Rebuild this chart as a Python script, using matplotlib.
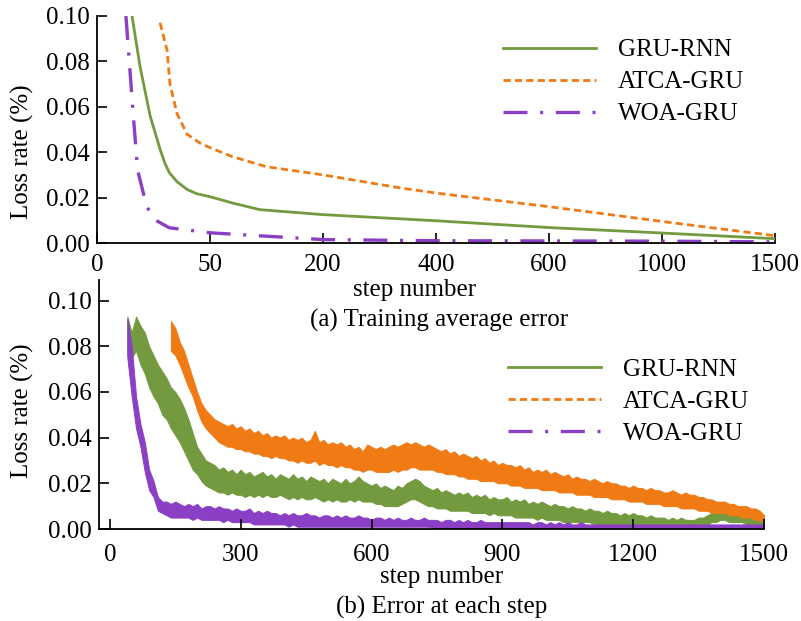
import numpy as np
import matplotlib.pyplot as plt
from matplotlib.lines import Line2D

plt.rcParams['font.family'] = ['Liberation Serif', 'DejaVu Serif']

labels = ['GRU-RNN', 'ATCA-GRU', 'WOA-GRU']
colors = ['#739a3f', '#f07a14', '#8a3fc4']

# (a) training average error, read at step numbers
top_ticks = [0, 50, 200, 400, 600, 1000, 1500]
gru_x = [15.5, 19, 23.5, 28, 30.1, 32, 35.4, 40, 44.2, 50, 80, 116, 200, 400, 600, 1000, 1500]
gru_y = [0.100, 0.078, 0.056, 0.041, 0.035, 0.031, 0.027, 0.0235, 0.0217, 0.0204, 0.0176, 0.0147,
         0.0125, 0.0098, 0.0068, 0.0044, 0.0019]
atca_x = [27.9, 31, 32.3, 35.4, 39.8, 45.6, 50, 80, 125, 200, 336, 400, 600, 1000, 1500]
atca_y = [0.097, 0.085, 0.070, 0.057, 0.048, 0.044, 0.042, 0.038, 0.0336, 0.030, 0.0243, 0.022,
          0.016, 0.0095, 0.0032]
woa_x = [12.8, 16, 18, 22, 26, 32, 50, 200, 400, 600, 1000, 1500]
woa_y = [0.100, 0.057, 0.032, 0.016, 0.010, 0.0067, 0.0045, 0.0015, 0.0010, 0.0009, 0.0008, 0.0005]

# (b) error at each step: upper / lower edge of the noisy trace every 10 steps (1e-3)
step_gap = 10
gru_start = 40
gru_hi = [93, 86, 93, 89, 86, 80, 76, 72, 69, 66,
          62, 60, 57, 53, 48, 42, 36, 33, 30, 29,
          28, 26, 27, 25, 26, 24, 26, 24, 25, 23,
          24, 25, 23, 24, 22, 24, 23, 22, 24, 22,
          23, 21, 23, 22, 21, 22, 20, 22, 21, 20,
          22, 20, 21, 23, 21, 20, 19, 20, 18, 19,
          18, 17, 19, 18, 20, 21, 22, 21, 19, 18,
          17, 18, 16, 17, 16, 15, 16, 15, 16, 14,
          15, 14, 15, 13, 14, 13, 13, 14, 12, 13,
          12, 13, 11, 12, 11, 12, 11, 10, 11, 10,
          10, 9, 10, 9, 9, 8, 9, 8, 8, 7,
          8, 7, 7, 6, 7, 6, 7, 6, 6, 5,
          6, 5, 5, 5, 4, 5, 4, 5, 4, 4,
          4, 5, 5, 6, 7, 8, 8, 9, 8, 8,
          7, 7, 6, 6, 6, 5, 5]
gru_lo = [76, 75, 78, 72, 68, 62, 58, 55, 50, 48,
          44, 41, 38, 34, 30, 26, 24, 21, 19, 18,
          17, 16, 16, 15, 16, 15, 15, 14, 15, 14,
          15, 14, 15, 14, 14, 15, 14, 13, 14, 13,
          14, 13, 13, 14, 13, 12, 13, 12, 13, 12,
          12, 13, 12, 13, 12, 12, 12, 11, 11, 10,
          10, 10, 10, 11, 12, 13, 13, 12, 11, 10,
          10, 9, 9, 9, 8, 8, 8, 8, 8, 7,
          7, 7, 7, 6, 7, 6, 6, 6, 6, 5,
          5, 5, 5, 5, 4, 5, 4, 4, 4, 4,
          3, 3, 3, 3, 3, 3, 3, 2, 2, 2,
          2, 2, 2, 2, 2, 2, 2, 2, 1, 1,
          1, 1, 1, 1, 1, 1, 1, 1, 1, 1,
          1, 1, 2, 2, 3, 3, 4, 4, 3, 3,
          3, 3, 2, 2, 2, 2, 2]
atca_start = 140
atca_hi = [91, 88, 82, 78, 72, 66, 60, 55, 52, 50,
           48, 47, 46, 45, 46, 44, 45, 43, 44, 42,
           43, 41, 42, 40, 41, 40, 41, 39, 40, 39,
           40, 38, 39, 43, 38, 39, 37, 38, 37, 38,
           36, 37, 35, 36, 34, 37, 36, 35, 36, 35,
           36, 37, 36, 37, 38, 37, 38, 37, 36, 37,
           36, 35, 34, 35, 33, 34, 32, 33, 32, 31,
           32, 30, 31, 29, 30, 28, 29, 28, 28, 27,
           28, 26, 27, 25, 26, 25, 26, 24, 25, 24,
           23, 24, 22, 23, 22, 22, 21, 22, 21, 20,
           21, 20, 20, 19, 19, 18, 19, 18, 18, 17,
           18, 17, 17, 16, 16, 17, 16, 15, 16, 15,
           15, 14, 14, 13, 13, 12, 12, 12, 11, 11,
           10, 10, 10, 9, 9, 8, 6]
atca_lo = [78, 76, 72, 67, 62, 58, 52, 47, 44, 42,
           40, 38, 37, 36, 36, 35, 35, 34, 34, 33,
           33, 32, 32, 31, 32, 31, 31, 30, 30, 29,
           30, 29, 29, 30, 28, 29, 28, 28, 27, 28,
           27, 27, 26, 26, 25, 26, 26, 25, 25, 25,
           25, 26, 25, 26, 26, 27, 27, 26, 26, 26,
           26, 25, 25, 24, 24, 24, 23, 23, 22, 22,
           22, 21, 21, 21, 21, 20, 20, 20, 19, 19,
           19, 18, 18, 18, 18, 17, 17, 17, 17, 16,
           16, 16, 16, 15, 15, 15, 15, 14, 14, 14,
           14, 13, 13, 13, 13, 12, 12, 12, 12, 11,
           11, 11, 11, 10, 10, 10, 10, 9, 9, 9,
           9, 8, 8, 8, 7, 7, 7, 7, 6, 6,
           6, 5, 5, 5, 4, 4, 3]
woa_start = 40
woa_hi = [92, 80, 58, 46, 38, 26, 21, 14, 12, 12,
          11, 12, 11, 10, 11, 10, 11, 9, 10, 10,
          9, 10, 9, 9, 8, 9, 8, 8, 9, 7,
          8, 7, 8, 7, 7, 6, 7, 6, 7, 6,
          6, 7, 6, 6, 5, 6, 6, 5, 6, 5,
          6, 5, 5, 6, 5, 5, 4, 5, 5, 4,
          5, 4, 5, 4, 4, 5, 4, 4, 5, 4,
          4, 4, 3, 4, 4, 3, 4, 3, 4, 3,
          3, 4, 3, 3, 3, 3, 3, 3, 3, 3,
          3, 3, 3, 2, 3, 3, 2, 3, 2, 3,
          2, 3, 2, 2, 3, 2, 2, 2, 2, 2,
          2, 2, 2, 2, 2, 2, 2, 2, 2, 2,
          2, 2, 2, 2, 2, 2, 2, 2, 2, 2,
          2, 2, 2, 2, 2, 2, 2, 2, 2, 2,
          2, 2, 2, 2, 2, 2, 2]
woa_lo = [75, 58, 44, 36, 25, 17, 14, 8, 7, 6,
          5, 5, 5, 5, 5, 4, 5, 4, 4, 4,
          4, 4, 3, 4, 3, 3, 3, 3, 3, 2,
          2, 2, 2, 2, 2, 2, 2, 1, 2, 1,
          1, 1, 1, 1, 1, 1, 1, 1, 1, 1,
          1, 1, 1, 1, 1, 1, 1, 1, 1, 1,
          1, 1, 1, 1, 1, 1, 1, 1, 1, 1,
          0.5, 0.5, 0.5, 0.5, 0.5, 0.5, 0.5, 0.5, 0.5, 0.5,
          0.5, 0.5, 0.5, 0.5, 0.5, 0.5, 0.5, 0.5, 0.5, 0.5,
          0.5, 0.5, 0.5, 0.5, 0.5, 0.5, 0.5, 0.5, 0.5, 0.5,
          0.3, 0.3, 0.3, 0.3, 0.3, 0.3, 0.3, 0.3, 0.3, 0.3,
          0.3, 0.3, 0.3, 0.3, 0.3, 0.3, 0.3, 0.3, 0.3, 0.3,
          0.3, 0.3, 0.3, 0.3, 0.3, 0.3, 0.3, 0.3, 0.3, 0.3,
          0.3, 0.3, 0.3, 0.3, 0.3, 0.3, 0.3, 0.3, 0.3, 0.3,
          0.3, 0.3, 0.3, 0.3, 0.3, 0.3, 0.3]
bottom_ticks = [0, 300, 600, 900, 1200, 1500]
y_ticks = [0, 0.02, 0.04, 0.06, 0.08, 0.10]
y_ticklabels = ['0.00', '0.02', '0.04', '0.06', '0.08', '0.10']

fig = plt.figure(figsize=(8.01, 6.21), dpi=100)

# top axis: tick labels are evenly spaced, so map steps piecewise onto it
tick_pos = np.arange(len(top_ticks))
def fwd(v):
    return np.interp(v, top_ticks, tick_pos)
def inv(v):
    return np.interp(v, tick_pos, top_ticks)

styles = [dict(lw=2.0), dict(lw=2.0, dashes=(2.6, 1.5)), dict(lw=2.4, dashes=(7.2, 3.8, 0.9, 3.8))]

ax1 = fig.add_axes([97 / 801, 1 - 243 / 621, (775 - 97) / 801, (243 - 16) / 621])
ax1.set_xscale('function', functions=(fwd, inv))
for xs, ys, c, st, lab in zip([gru_x, atca_x, woa_x], [gru_y, atca_y, woa_y], colors, styles, labels):
    ax1.plot(xs, ys, color=c, label=lab, **st)
ax1.set_xlim(0, 1500)
ax1.set_ylim(0, 0.1)
ax1.set_xticks(top_ticks)
ax1.set_xticklabels([str(t) for t in top_ticks])
ax1.legend(loc='upper left', bbox_to_anchor=(503 / 801, 1 - 39 / 621), bbox_transform=fig.transFigure,
           frameon=False, fontsize=18, handlelength=3.7, handletextpad=0.9, labelspacing=0.38,
           borderpad=0, borderaxespad=0)

ax2 = fig.add_axes([99 / 801, 1 - 529 / 621, (764 - 99) / 801, (529 - 280) / 621])
for start, hi, lo, c in [(gru_start, gru_hi, gru_lo, colors[0]),
                         (atca_start, atca_hi, atca_lo, colors[1]),
                         (woa_start, woa_hi, woa_lo, colors[2])]:
    xs = start + step_gap * np.arange(len(hi))
    ax2.fill_between(xs, np.array(lo) / 1000, np.array(hi) / 1000, color=c, lw=0.7, edgecolor=c)
ax2.set_xlim(-25, 1500)
ax2.set_ylim(0, 0.109)
ax2.set_xticks(bottom_ticks)
handles = [Line2D([], [], color=c, **st) for c, st in zip(colors, styles)]
ax2.legend(handles, labels, loc='upper left', bbox_to_anchor=(508 / 801, 1 - 358 / 621),
           bbox_transform=fig.transFigure, frameon=False, fontsize=18, handlelength=3.7,
           handletextpad=0.9, labelspacing=0.38, borderpad=0, borderaxespad=0)

for ax, xpad in ((ax1, 8), (ax2, 11)):
    ax.set_yticks(y_ticks)
    ax.set_yticklabels(y_ticklabels)
    ax.spines['top'].set_visible(False)
    ax.spines['right'].set_visible(False)
    ax.spines['left'].set_linewidth(1.3)
    ax.spines['bottom'].set_linewidth(1.3)
    ax.tick_params(direction='in', length=7, width=1.2, labelsize=18)
    ax.tick_params(axis='x', pad=xpad)
    ax.tick_params(axis='y', pad=5)

fig.text(22 / 801, 1 - 152 / 621, 'Loss rate (%)', rotation=90, ha='center', va='center', fontsize=18)
fig.text(22 / 801, 1 - 411 / 621, 'Loss rate (%)', rotation=90, ha='center', va='center', fontsize=18)
fig.text(415 / 801, 1 - 290 / 621, 'step number', ha='center', va='center', fontsize=18)
fig.text(439 / 801, 1 - 320 / 621, '(a) Training average error', ha='center', va='center', fontsize=18)
fig.text(442 / 801, 1 - 577 / 621, 'step number', ha='center', va='center', fontsize=18)
fig.text(442 / 801, 1 - 607 / 621, '(b) Error at each step', ha='center', va='center', fontsize=18)

fig.savefig('out.png', dpi=100)
